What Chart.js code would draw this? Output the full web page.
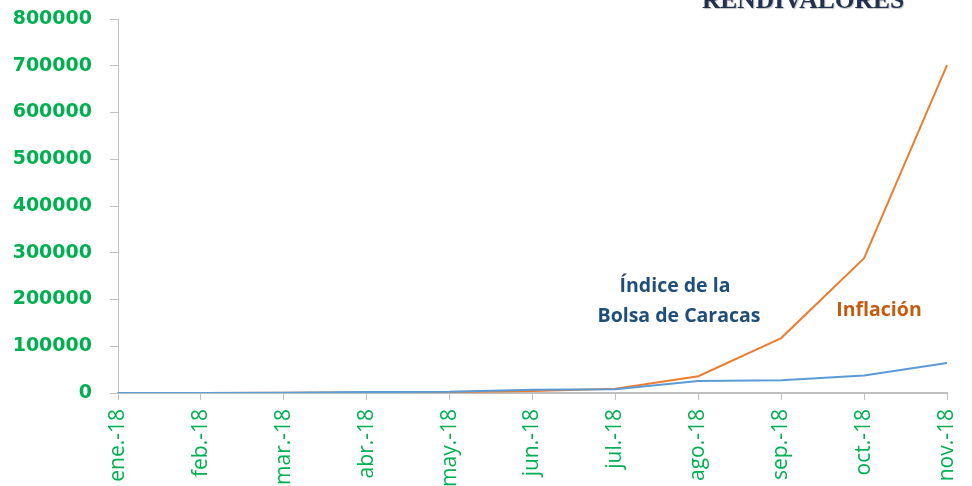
<!DOCTYPE html>
<html>
<head>
<meta charset="utf-8">
<script src="https://cdn.jsdelivr.net/npm/chart.js@4"></script>
<style>
html,body{margin:0;padding:0;background:#fff;}
#wrap{width:972px;height:486px;position:relative;}
</style>
</head>
<body>
<div id="wrap"><canvas id="c" width="972" height="486"></canvas></div>
<script>
const categories = ['ene.-18','feb.-18','mar.-18','abr.-18','may.-18','jun.-18','jul.-18','ago.-18','sep.-18','oct.-18','nov.-18'];
const inflacion = [0, 100, 400, 1000, 2000, 4500, 9000, 36000, 117500, 288500, 701500];
const indiceBolsa = [0, 200, 500, 2000, 2500, 7000, 8000, 25500, 27500, 37500, 64000];
const yTicks = [0,100000,200000,300000,400000,500000,600000,700000,800000];

const textPlugin = {
  id: 'texts',
  afterDraw(chart) {
    const ctx = chart.ctx;
    ctx.save();
    ctx.textAlign = 'center';
    ctx.textBaseline = 'alphabetic';
    ctx.fillStyle = '#22314f';
    ctx.shadowColor = 'rgba(0,0,0,0.25)';
    ctx.shadowOffsetX = 1; ctx.shadowOffsetY = 1; ctx.shadowBlur = 1;
    ctx.font = 'bold 25.5px "Liberation Serif"';
    ctx.fillText('RENDIVALORES', 803, 8);
    ctx.shadowColor = 'transparent';
    ctx.textBaseline = 'middle';
    ctx.font = 'bold 19.5px "Open Sans"';
    ctx.fillStyle = '#1F4E79';
    ctx.fillText('Índice de la', 675, 286);
    ctx.fillText('Bolsa de Caracas', 679, 316);
    ctx.fillStyle = '#C55A11';
    ctx.fillText('Inflación', 879, 310);
    ctx.restore();
  }
};

new Chart(document.getElementById('c'), {
  type: 'line',
  data: {
    labels: categories,
    datasets: [
      { label: 'Índice de la Bolsa de Caracas', data: indiceBolsa, borderColor: '#5B9BD5', borderWidth: 2, pointRadius: 0, tension: 0, fill: false },
      { label: 'Inflación', data: inflacion, borderColor: '#ED7D31', borderWidth: 2, pointRadius: 0, tension: 0, fill: false }
    ]
  },
  options: {
    responsive: false,
    animation: false,
    layout: { padding: { top: 19, right: 25, left: 0, bottom: 0 } },
    plugins: { legend: { display: false }, tooltip: { enabled: false } },
    scales: {
      x: {
        offset: false,
        grid: { display: true, drawOnChartArea: false, drawTicks: true, tickLength: 7, color: '#BFBFBF', lineWidth: 1 },
        border: { display: true, color: '#BFBFBF', width: 2 },
        ticks: { color: '#00B050', font: { family: '"Open Sans"', size: 21 }, minRotation: 90, maxRotation: 90, padding: 9, autoSkip: false },
        afterFit(s) { s.height = 93; s.paddingLeft = 0; s.paddingRight = 0; }
      },
      y: {
        min: 0, max: 800000,
        afterBuildTicks(s) { s.ticks = yTicks.map(v => ({ value: v })); },
        grid: { display: true, drawOnChartArea: false, drawTicks: true, tickLength: 8, color: '#BFBFBF', lineWidth: 1 },
        border: { display: true, color: '#BFBFBF', width: 1 },
        ticks: { color: '#00B050', font: { family: '"DejaVu Sans"', size: 19, weight: 'bold' }, padding: 18, callback: v => String(v) },
        afterFit(s) { s.width = 118; s.paddingTop = 0; s.paddingBottom = 0; }
      }
    }
  },
  plugins: [textPlugin]
});
</script>
</body>
</html>
